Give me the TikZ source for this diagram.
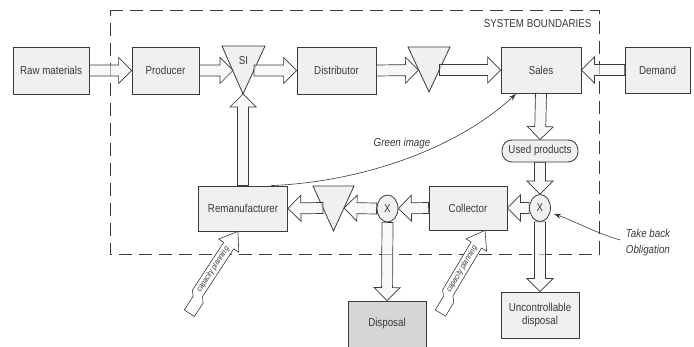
\documentclass[tikz,border=0pt]{standalone}
\usepackage{fontspec}
\setmainfont{Liberation Sans}[FakeStretch=0.85]
\usetikzlibrary{calc,shapes.geometric,arrows.meta}

\definecolor{ink}{HTML}{3A3A3A}
\definecolor{boxfill}{HTML}{F0F0F0}
\definecolor{flowfill}{HTML}{F4F4F4}
\definecolor{dispfill}{HTML}{D6D6D6}

\tikzset{
  lbl/.style={font=\fontsize{11.5}{13}\selectfont, text=ink},
  stage/.style={draw=ink, fill=boxfill, line width=0.8pt, inner sep=0pt, lbl},
  gate/.style={ellipse, draw=ink, fill=boxfill, line width=0.8pt,
    minimum width=21pt, minimum height=27pt, inner sep=0pt, lbl},
  stock/.style={draw=ink, fill=boxfill, line width=0.8pt, line join=miter},
  flowarrow/.style={draw=ink, fill=flowfill, fill opacity=0.6, line width=0.7pt, line join=miter},
  planarrow/.style={draw=ink, fill=white, line width=0.6pt, line join=miter},
  infl/.style={draw=ink, line width=0.6pt, -{Stealth[length=7pt,width=5pt]}},
  note/.style={font=\fontsize{11.5}{16}\selectfont\itshape, text=ink},
  boundary/.style={draw=ink, line width=0.8pt, dash pattern=on 13pt off 7pt},
}

% hollow block arrow from #1 to #2
\newcommand\flow[2]{%
  \coordinate (fh) at ($(#2)!13pt!(#1)$);
  \draw[flowarrow]
    ($(#1)!5.5pt!90:(#2)$) -- ($(fh)!5.5pt!90:(#2)$) -- ($(fh)!13pt!90:(#2)$)
    -- (#2)
    -- ($(fh)!13pt!-90:(#2)$) -- ($(fh)!5.5pt!-90:(#2)$) -- ($(#1)!5.5pt!-90:(#2)$) -- cycle;
}

% broken (zig-zag) "capacity planning" arrow from tail #1 to tip #2
\newcommand\planflow[2]{%
  \coordinate (pB) at ($(#2)!17pt!(#1)$);
  \coordinate (pa) at ($(#1)!16pt!(#2)$);
  \coordinate (pb) at ($(#1)!21pt!(#2)$);
  \draw[planarrow]
    ($(#1)!10pt!-90:(#2)$) -- ($(pa)!10pt!-90:(#2)$) -- ($(pb)!6pt!-90:(#2)$)
    -- ($(pB)!6pt!-90:(#2)$) -- ($(pB)!12pt!-90:(#2)$) -- (#2)
    -- ($(pB)!12pt!90:(#2)$) -- ($(pB)!6pt!90:(#2)$)
    -- ($(pb)!6pt!90:(#2)$) -- ($(pa)!2pt!90:(#2)$) -- ($(#1)!2pt!90:(#2)$) -- cycle;
  \path (#1) -- node[sloped, pos=0.52, font=\fontsize{8}{9}\selectfont\itshape, text=ink]
    {capacity planning} (#2);
}

\begin{document}
\begin{tikzpicture}[x=1pt,y=-1pt]
\useasboundingbox (0,0) rectangle (694,347);
\clip (0,0) rectangle (694,347);
\fill[white] (0,0) rectangle (694,347);

% system boundary
\draw[boundary] (110,10) -- (599,10) -- (599,254) -- (110,254) -- cycle;
\node[lbl, anchor=east] (sysb) at (595,24) {SYSTEM BOUNDARIES};

% stages
\node[stage, minimum width=76pt, minimum height=47pt] (raw) at (51,70.5) {Raw materials};
\node[stage, minimum width=67pt, minimum height=47pt] (prod) at (165.5,70.5) {Producer};
\node[stage, minimum width=79pt, minimum height=47pt] (dist) at (336.5,70.5) {Distributor};
\node[stage, minimum width=80pt, minimum height=46pt] (sales) at (541,70) {Sales};
\node[stage, minimum width=65pt, minimum height=46pt] (demand) at (657.5,70) {Demand};
\node[stage, rounded corners=10pt, minimum width=76pt, minimum height=22pt] (used) at (540,151) {Used products};
\node[stage, minimum width=78pt, minimum height=44pt] (coll) at (468,208) {Collector};
\node[stage, minimum width=89pt, minimum height=45pt] (reman) at (243,208.5) {Remanufacturer};
\node[stage, fill=dispfill, minimum width=78pt, minimum height=46pt] (disp) at (387,324) {Disposal};
\node[stage, align=center, minimum width=78pt, minimum height=46pt] (uncd) at (540,315)
  {Uncontrollable\\disposal};

% decision points
\node[gate] (xr) at (540,208) {X};
\node[gate] (xl) at (387.5,208.5) {X};

% stock points
\coordinate (siL) at (222,46); \coordinate (siR) at (265,46); \coordinate (siB) at (243,94);
\draw[stock] (siL) -- (siR) -- (siB) -- cycle;
\node[lbl] (si) at (243.5,61) {SI};
\coordinate (tbL) at (408,47); \coordinate (tbR) at (450,47); \coordinate (tbB) at (429,92);
\draw[stock] (tbL) -- (tbR) -- (tbB) -- cycle;
\coordinate (trL) at (313,186); \coordinate (trR) at (354,186); \coordinate (trB) at (333.5,231);
\draw[stock] (trL) -- (trR) -- (trB) -- cycle;

% attachment points on the stock triangles
\coordinate (siIn) at (233,70.5);
\coordinate (siOut) at (254,70.5);
\coordinate (tbIn) at (418.5,70);
\coordinate (tbOut) at (439.5,70);
\coordinate (trIn) at (344,208);
\coordinate (trOut) at (323,208);

% forward flows
\flow{raw.east}{prod.west}
\flow{prod.east}{siIn}
\flow{siOut}{dist.west}
\flow{dist.east}{tbIn}
\flow{tbOut}{sales.west}
\flow{demand.west}{sales.east}

% return flows
\flow{sales.south}{used.north}
\flow{used.south}{xr.north}
\flow{xr.west}{coll.east}
\flow{coll.west}{xl.east}
\flow{xl.west}{trIn}
\flow{trOut}{reman.east}
\flow{reman.north}{siB}
\flow{xl.south}{disp.north}
\flow{xr.south}{uncd.north}

% influences
\draw[infl, shorten >=1pt] ($(reman.north)+(28,0)$) .. controls (360,182) and (455,150) .. ($(sales.south west)+(16,0)$);
\node[note] (green) at (402,144) {Green image};
\node[note, align=left] (tb) at (648,243) {Take back\\Obligation};
\draw[infl, shorten >=4pt] ($(tb.west)+(-2,-3)$) .. controls (598,234) and (572,220) .. (xr.-25);

% capacity planning
\coordinate (cp1) at (186,311);
\coordinate (cp2) at (437,311);
\planflow{cp1}{$(reman.south)+(-5,0)$}
\planflow{cp2}{$(coll.south)+(17,0)$}
\end{tikzpicture}
\end{document}
